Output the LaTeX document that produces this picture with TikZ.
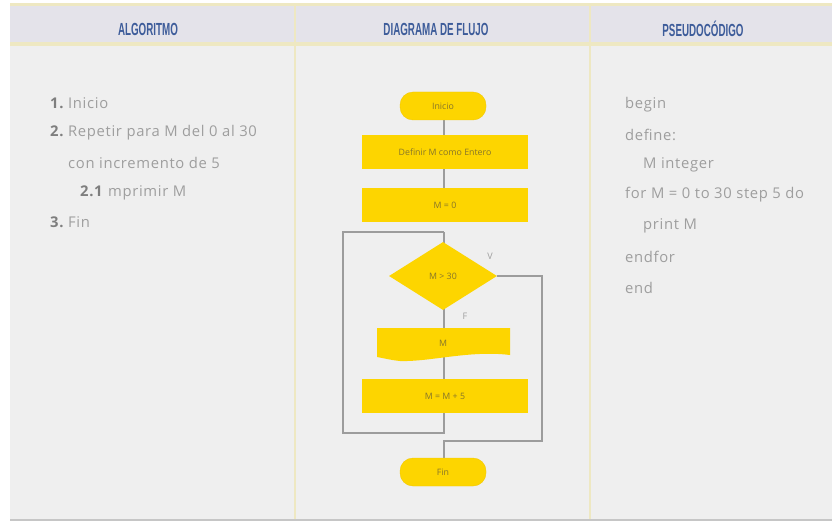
\documentclass[tikz,border=0pt]{standalone}
\usepackage{fontspec}
\setmainfont{Open Sans}
\newfontfamily\cuerpo[LetterSpace=4.5]{Open Sans}
\newfontfamily\headfont{Liberation Sans}
\usetikzlibrary{shapes.geometric}
\definecolor{amarillo}{HTML}{FDD500}
\definecolor{borde}{HTML}{F3C800}
\definecolor{linea}{HTML}{9C9C9C}
\definecolor{gristexto}{HTML}{9E9E9E}
\definecolor{grisnum}{HTML}{7E7E7E}
\definecolor{azultitulo}{HTML}{3D5C9A}
\definecolor{fondo}{HTML}{EFEFEF}
\definecolor{cabecera}{HTML}{E4E3EA}
\definecolor{crema}{HTML}{EEE8C2}
\definecolor{textoflujo}{HTML}{86752A}
\newcommand\encogido[1]{\scalebox{0.56}[1]{#1}}
\newcommand\numero[2][18pt]{\makebox[#1][l]{\color{grisnum}\bfseries #2}}

\begin{document}
\begin{tikzpicture}
  [x=1pt, y=-1pt,
   every node/.style={inner sep=0pt},
   titulo/.style={text=azultitulo, font=\headfont\bfseries\fontsize{17.5}{17.5}\selectfont},
   texto/.style={anchor=west, text=gristexto, font=\cuerpo\fontsize{14.8}{14.8}\selectfont},
   terminal/.style={fill=amarillo, draw=borde, rounded corners=13pt, minimum width=86, minimum height=28},
   proceso/.style={fill=amarillo, minimum width=166, minimum height=34},
   decision/.style={diamond, fill=amarillo, minimum width=108, minimum height=68},
   flujo/.style={text=textoflujo, font=\fontsize{8.8}{8.8}\selectfont},
   conector/.style={draw=linea, line width=1.1pt},
   etiqueta/.style={text=gristexto, font=\fontsize{9}{9}\selectfont}]
  \useasboundingbox (0,0) rectangle (832,524);
  \fill[white] (0,0) rectangle (832,524);
  \fill[cabecera] (10,4) rectangle (832,46);
  \fill[fondo] (10,46) rectangle (832,519);
  \draw[crema, line width=3pt] (10,5) -- (832,5);
  \draw[crema, line width=4pt] (10,44) -- (832,44);
  \draw[gray!45, line width=1.5pt] (10,520) -- (832,520);
  \draw[crema, line width=1.5pt] (295,4) -- (295,519);
  \draw[crema, line width=1.5pt] (590,4) -- (590,519);

  \node[titulo] (tAlgoritmo) at (148,29) {\encogido{ALGORITMO}};
  \node[titulo] (tDiagrama) at (436,29) {\encogido{DIAGRAMA DE FLUJO}};
  \node[titulo] (tPseudo) at (703,29) {\encogido{PSEUDOCÓDIGO}};

  \node[texto] (a1) at (50,103) {\numero{1.}Inicio};
  \node[texto] (a2) at (50,133) {\numero{2.}Repetir para M del 0 al 30};
  \node[texto] (a3) at (68,163) {con incremento de 5};
  \node[texto] (a4) at (80,193) {\numero[28pt]{2.1}mprimir M};
  \node[texto] (a5) at (50,222) {\numero{3.}Fin};

  \node[texto] (p1) at (625,105) {begin};
  \node[texto] (p2) at (625,135) {define:};
  \node[texto] (p3) at (643,165) {M integer};
  \node[texto] (p4) at (625,195) {for M = 0 to 30 step 5 do};
  \node[texto] (p5) at (643,226) {print M};
  \node[texto] (p6) at (625,257) {endfor};
  \node[texto] (p7) at (625,288) {end};

  \coordinate (bucle) at (444,232);
  \coordinate (cierre) at (444,433);
  \coordinate (salida) at (444,441);
  \coordinate (derecha) at (542,441);
  \draw[conector] (444,106) -- (444,205);
  \draw[conector] (bucle) -- (444,276);
  \draw[conector] (444,276) -- (444,396);
  \draw[conector] (444,396) -- (cierre) -- (343,433) |- (bucle);
  \draw[conector] (497,276) -| (derecha) -- (salida) -- (444,472);

  \node[terminal, flujo] (inicio) at (443,106) {Inicio};
  \node[proceso, flujo] (definir) at (445,152) {Definir M como Entero};
  \node[proceso, flujo] (mcero) at (445,205) {M = 0};
  \node[decision, flujo] (cond) at (443,276) {M > 30};
  \fill[amarillo] (377,328) -- (510,328) -- (510,355)
    .. controls (470,350) and (430,362) .. (400,361)
    .. controls (390,360) and (383,358) .. (377,357) -- cycle;
  \node[flujo] (imprimir) at (443,343) {M};
  \node[proceso, flujo] (incr) at (445,396) {M = M + 5};
  \node[terminal, flujo] (fin) at (443,472) {Fin};

  \node[etiqueta] (v) at (490,256) {V};
  \node[etiqueta] (f) at (465,316) {F};
\end{tikzpicture}
\end{document}
